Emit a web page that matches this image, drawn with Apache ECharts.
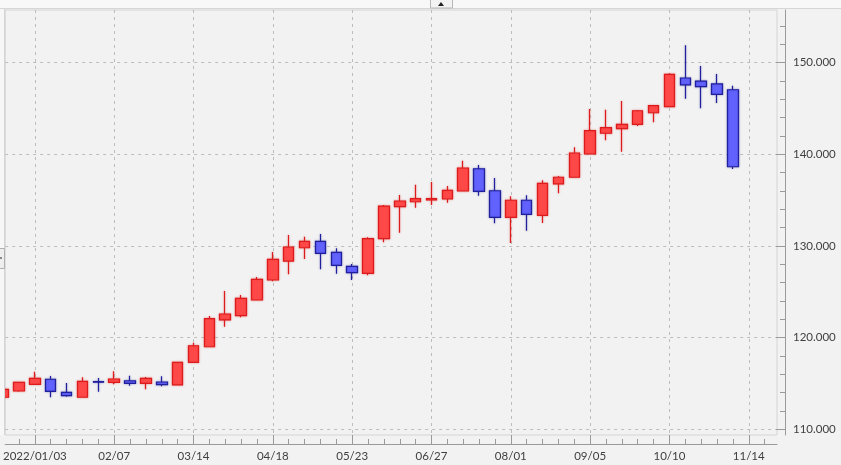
<!DOCTYPE html>
<html>
<head>
<meta charset="utf-8">
<script src="https://cdn.jsdelivr.net/npm/echarts@6/dist/echarts.min.js"></script>
<style>
html,body{margin:0;padding:0;background:#f2f2f2;}
#c{width:841px;height:465px;}
</style>
</head>
<body>
<div id="c"></div>
<script>
// Weekly candles (week start dates); the axis runs a little past the last candle
const weeks = ['2021/12/20','2021/12/27','2022/01/03','2022/01/10','2022/01/17','2022/01/24','2022/01/31',
  '2022/02/07','2022/02/14','2022/02/21','2022/02/28','2022/03/07','2022/03/14','2022/03/21','2022/03/28',
  '2022/04/04','2022/04/11','2022/04/18','2022/04/25','2022/05/02','2022/05/09','2022/05/16','2022/05/23',
  '2022/05/30','2022/06/06','2022/06/13','2022/06/20','2022/06/27','2022/07/04','2022/07/11','2022/07/18',
  '2022/07/25','2022/08/01','2022/08/08','2022/08/15','2022/08/22','2022/08/29','2022/09/05','2022/09/12',
  '2022/09/19','2022/09/26','2022/10/03','2022/10/10','2022/10/17','2022/10/24','2022/10/31','2022/11/07',
  '2022/11/14','2022/11/21'];

const opens  = [113.50,114.18,114.91,115.46,114.04,113.50,115.20,115.13,115.30,115.02,115.16,114.84,117.31,119.01,121.93,
  122.40,124.11,126.29,128.36,129.81,130.51,129.31,127.78,127.02,130.80,134.29,134.83,135.02,135.13,136.00,138.43,
  136.03,133.13,134.99,133.35,136.77,137.50,140.04,142.30,142.80,143.27,144.54,145.20,148.33,148.00,147.68,147.05];
const closes = [114.36,115.13,115.56,114.15,113.67,115.24,115.14,115.49,115.02,115.56,114.87,117.31,119.12,122.07,122.58,
  124.29,126.37,128.55,129.89,130.51,129.20,127.89,127.09,130.80,134.36,134.91,135.16,135.16,136.08,138.51,135.97,
  133.13,134.99,133.46,136.84,137.50,140.15,142.58,142.91,143.27,144.76,145.31,148.73,147.57,147.38,146.55,138.65];
const lows   = [113.40,114.10,114.85,113.49,113.56,113.45,114.10,114.91,114.76,114.36,114.69,114.80,117.25,118.95,121.19,
  122.22,124.05,126.15,126.91,128.58,127.46,126.98,126.29,126.80,130.40,131.45,134.18,134.47,134.72,135.95,135.49,
  132.48,130.33,131.67,132.51,135.75,137.45,139.98,141.53,140.29,143.09,143.50,145.15,146.07,145.02,145.60,138.40];
const highs  = [114.45,115.20,116.28,115.82,115.05,115.68,115.60,116.33,115.85,115.70,115.80,117.35,119.45,122.36,125.09,
  124.65,126.62,129.35,131.20,131.00,131.30,129.75,128.04,130.95,134.47,135.57,136.69,136.98,136.55,139.31,138.84,
  137.42,135.42,135.53,137.17,137.64,140.77,144.95,144.87,145.82,144.84,145.35,148.84,151.90,149.64,148.77,147.49];

const xTickLabels = ['2022/01/03','02/07','03/14','04/18','05/23','06/27','08/01','09/05','10/10','11/14'];
const xTickWeeks  = ['2022/01/03','2022/02/07','2022/03/14','2022/04/18','2022/05/23','2022/06/27','2022/08/01','2022/09/05','2022/10/10','2022/11/14'];
const yTicks = [110,120,130,140,150];
const yMinorTicks = [110,112,114,116,118,120,122,124,126,128,130,132,134,136,138,140,142,144,146,148,150,152,154];

const UP_FILL='#ff4848', UP_BORDER='#dc1c1c', DN_FILL='#6262ff', DN_BORDER='#20209c';

const candleData = opens.map((o,i)=>{
  const up = closes[i] >= o;
  return {
    value:[i, o, closes[i], lows[i], highs[i]],
    itemStyle:{shadowColor: up ? 'rgba(230,60,60,0.55)' : 'rgba(60,60,170,0.5)', shadowBlur:2}
  };
});

const xMajor = xTickWeeks.map(w=>weeks.indexOf(w));
const xMinor = weeks.map((w,i)=>i).filter(i=>i>=1);
const xMin = 0.128, xMax = 48.78;
const yMin = 109.38, yMax = 155.75;
const FONT = 'Lato';

const chart = echarts.init(document.getElementById('c'), null, {renderer:'canvas'});
chart.setOption({
  animation:false,
  backgroundColor:'#f2f2f2',
  grid:{left:5, right:64, top:10, bottom:30, show:true, backgroundColor:'#f2f2f2', borderColor:'#d4d4d4', borderWidth:1},
  xAxis:[
    {type:'value', min:xMin, max:xMax, position:'bottom', offset:9,
     axisLine:{show:true, lineStyle:{color:'#9a9a9a', width:1}},
     axisTick:{show:true, inside:true, length:5, customValues:xMinor, lineStyle:{color:'#9a9a9a'}},
     axisLabel:{show:false}, splitLine:{show:false}},
    {type:'value', min:xMin, max:xMax, position:'bottom', offset:9,
     axisLine:{show:false},
     axisTick:{show:true, inside:true, length:9, customValues:xMajor, lineStyle:{color:'#9a9a9a'}},
     axisLabel:{show:true, customValues:xMajor, margin:6, color:'#404040', fontSize:11.5, fontFamily:FONT,
       formatter:(v)=>{const k=xMajor.indexOf(Math.round(v)); return k>=0?xTickLabels[k]:'';}},
     splitLine:{show:true, lineStyle:{color:'#bdbdbd', type:[3,4], width:1}}}
  ],
  yAxis:[
    {type:'value', min:yMin, max:yMax, position:'right', offset:8,
     axisLine:{show:true, lineStyle:{color:'#9a9a9a'}},
     axisTick:{show:true, inside:true, length:5, customValues:yMinorTicks, lineStyle:{color:'#9a9a9a'}},
     axisLabel:{show:false}, splitLine:{show:false}},
    {type:'value', min:yMin, max:yMax, position:'right', offset:8,
     axisLine:{show:false},
     axisTick:{show:true, inside:true, length:9, customValues:yTicks, lineStyle:{color:'#9a9a9a'}},
     axisLabel:{show:true, customValues:yTicks, margin:8, color:'#404040', fontSize:11.5, fontFamily:FONT,
       formatter:(v)=>v.toFixed(3)},
     splitLine:{show:true, lineStyle:{color:'#bdbdbd', type:[3,4], width:1}}}
  ],
  series:[{
    type:'candlestick', xAxisIndex:0, yAxisIndex:0,
    encode:{x:0, y:[1,2,3,4]},
    barWidth:11, clip:true,
    itemStyle:{color:UP_FILL, color0:DN_FILL, borderColor:UP_BORDER, borderColor0:DN_BORDER, borderWidth:1.2},
    data:candleData
  }],
  graphic:[
    {type:'rect', z:100, shape:{x:0,y:0,width:841,height:8}, style:{fill:'#f8f8f8'}, silent:true},
    {type:'line', z:100, shape:{x1:0,y1:8.5,x2:841,y2:8.5}, style:{stroke:'#d6d6d6', lineWidth:1}, silent:true},
    {type:'rect', z:101, shape:{x:430.5,y:-1,width:22,height:9}, style:{fill:'#f3f3f3', stroke:'#b8b8b8', lineWidth:1}, silent:true},
    {type:'polygon', z:102, shape:{points:[[438,6],[444,6],[441,2]]}, style:{fill:'#222'}, silent:true},
    {type:'rect', z:100, shape:{x:0,y:9,width:4.5,height:426}, style:{fill:'#f7f7f7'}, silent:true},
    {type:'line', z:100, shape:{x1:4.5,y1:9,x2:4.5,y2:435}, style:{stroke:'#d4d4d4', lineWidth:1}, silent:true},
    {type:'rect', z:101, shape:{x:-2.5,y:248.5,width:7,height:20}, style:{fill:'#eeeeee', stroke:'#b0b0b0', lineWidth:1}, silent:true},
    {type:'rect', z:102, shape:{x:0,y:257,width:2,height:2}, style:{fill:'#888'}, silent:true}
  ]
});
</script>
</body>
</html>
